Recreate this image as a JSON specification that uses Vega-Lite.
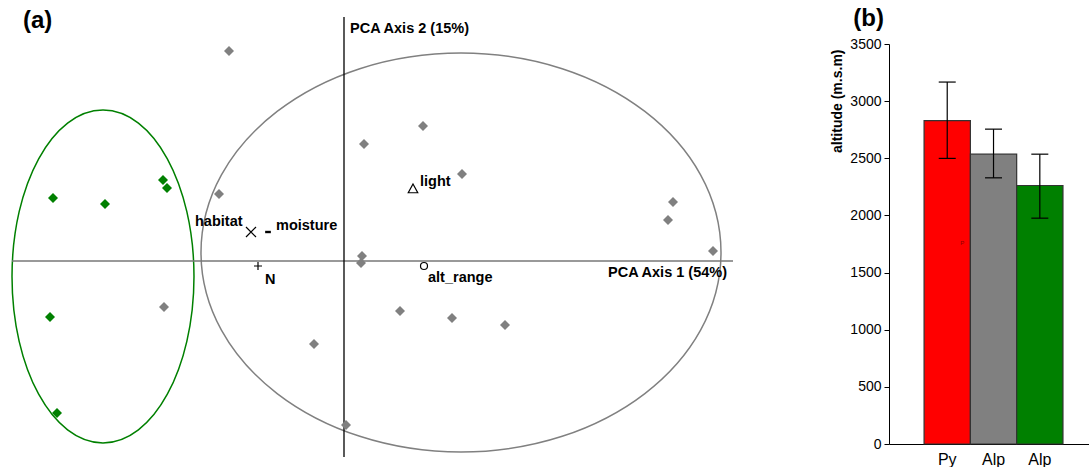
{
  "$schema": "https://vega.github.io/schema/vega-lite/v6.json",
  "padding": {"left": 0, "top": 7, "right": 0, "bottom": 0},
  "background": "white",
  "config": {
    "view": {"stroke": null},
    "font": "Liberation Sans"
  },
  "spacing": 149,
  "bounds": "flush",
  "datasets": {
    "sites": [
      {"group": "Alp-1", "x": -1.15, "y": 2.10},
      {"group": "Alp-1", "x": -1.25, "y": 0.67},
      {"group": "Alp-1", "x": 0.79, "y": 1.35},
      {"group": "Alp-1", "x": 0.20, "y": 1.17},
      {"group": "Alp-1", "x": 1.18, "y": 0.87},
      {"group": "Alp-1", "x": 3.29, "y": 0.59},
      {"group": "Alp-1", "x": 3.24, "y": 0.41},
      {"group": "Alp-1", "x": 3.69, "y": 0.10},
      {"group": "Alp-1", "x": 0.18, "y": 0.05},
      {"group": "Alp-1", "x": 0.17, "y": -0.02},
      {"group": "Alp-1", "x": 0.56, "y": -0.50},
      {"group": "Alp-1", "x": 1.08, "y": -0.57},
      {"group": "Alp-1", "x": 1.61, "y": -0.64},
      {"group": "Alp-1", "x": -1.80, "y": -0.46},
      {"group": "Alp-1", "x": -0.30, "y": -0.83},
      {"group": "Alp-1", "x": 0.02, "y": -1.64},
      {"group": "Alp-2", "x": -2.91, "y": 0.63},
      {"group": "Alp-2", "x": -2.39, "y": 0.57},
      {"group": "Alp-2", "x": -1.81, "y": 0.81},
      {"group": "Alp-2", "x": -1.77, "y": 0.73},
      {"group": "Alp-2", "x": -2.94, "y": -0.56},
      {"group": "Alp-2", "x": -2.87, "y": -1.52}
    ],
    "vars": [
      {"var": "habitat", "x": -0.93, "y": 0.29},
      {"var": "moisture", "x": -0.76, "y": 0.29},
      {"var": "N", "x": -0.86, "y": -0.05},
      {"var": "light", "x": 0.69, "y": 0.725},
      {"var": "alt_range", "x": 0.80, "y": -0.05}
    ],
    "labels": [
      {"text": "PCA Axis 2 (15%)", "x": 0.06, "y": 2.28},
      {"text": "PCA Axis 1 (54%)", "x": 2.64, "y": -0.16},
      {"text": "habitat", "x": -1.49, "y": 0.35},
      {"text": "moisture", "x": -0.68, "y": 0.31},
      {"text": "light", "x": 0.76, "y": 0.75},
      {"text": "N", "x": -0.79, "y": -0.23},
      {"text": "alt_range", "x": 0.84, "y": -0.21}
    ],
    "bars": [
      {"grp": "Py", "alt": 2830, "lo": 2499, "hi": 3167},
      {"grp": "Alp-1", "alt": 2536, "lo": 2329, "hi": 2755},
      {"grp": "Alp-2", "alt": 2262, "lo": 1976, "hi": 2536}
    ]
  },
  "hconcat": [
    {
      "width": 740,
      "height": 400,
      "encoding": {
        "x": {"field": "x", "type": "quantitative", "scale": {"domain": [-3.44, 3.96], "nice": false, "zero": false}, "axis": null},
        "y": {"field": "y", "type": "quantitative", "scale": {"domain": [-1.83, 2.17], "nice": false, "zero": false}, "axis": null}
      },
      "layer": [
        {
          "data": {"values": [{"x": -2.41, "y": -0.155}]},
          "mark": {"type": "point", "shape": "M-0.5465,0C-0.5465,-0.5523,-0.3018,-1,0,-1C0.3018,-1,0.5465,-0.5523,0.5465,0C0.5465,0.5523,0.3018,1,0,1C-0.3018,1,-0.5465,0.5523,-0.5465,0Z", "size": 110889, "filled": false, "stroke": "#008000", "strokeWidth": 1.5, "opacity": 1}
        },
        {
          "data": {"values": [{"x": 1.17, "y": 0.085}]},
          "mark": {"type": "point", "shape": "M-1.3033,0C-1.3033,-0.5523,-0.7198,-1,0,-1C0.7198,-1,1.3033,-0.5523,1.3033,0C1.3033,0.5523,0.7198,1,0,1C-0.7198,1,-1.3033,0.5523,-1.3033,0Z", "size": 159201, "filled": false, "stroke": "#808080", "strokeWidth": 1.5, "opacity": 1}
        },
        {
          "data": {"values": [{"x": -3.32, "x2": 3.89, "y": 0}]},
          "mark": {"type": "rule", "color": "#777777", "strokeWidth": 1.5},
          "encoding": {"x2": {"field": "x2"}}
        },
        {
          "data": {"values": [{"x": 0, "y": 2.44, "y2": -1.96}]},
          "mark": {"type": "rule", "color": "black", "strokeWidth": 1.3},
          "encoding": {"y2": {"field": "y2"}}
        },
        {
          "data": {"name": "sites"},
          "mark": {"type": "point", "shape": "diamond", "size": 100, "filled": true, "opacity": 1},
          "encoding": {
            "color": {"field": "group", "type": "nominal", "scale": {"domain": ["Py", "Alp-1", "Alp-2"], "range": ["#ff0000", "#808080", "#008000"]}, "legend": null}
          }
        },
        {
          "data": {"name": "vars"},
          "mark": {"type": "point", "size": 100, "filled": false, "stroke": "black", "strokeWidth": 1.2, "opacity": 1},
          "encoding": {
            "shape": {"field": "var", "type": "nominal", "legend": null,
              "scale": {"domain": ["habitat", "moisture", "N", "light", "alt_range"],
                "range": ["M-1,-1L1,1M-1,1L1,-1", "M-0.45,-0.12L0.45,-0.12L0.45,0.12L-0.45,0.12Z", "M-0.8,0L0.8,0M0,-0.8L0,0.8", "M0,-0.9L0.95,0.85L-0.95,0.85Z", "M-0.7,0C-0.7,-0.3866,-0.3866,-0.7,0,-0.7C0.3866,-0.7,0.7,-0.3866,0.7,0C0.7,0.3866,0.3866,0.7,0,0.7C-0.3866,0.7,-0.7,0.3866,-0.7,0Z"]}}
          }
        },
        {
          "data": {"name": "labels"},
          "mark": {"type": "text", "align": "left", "baseline": "alphabetic", "fontSize": 14.5, "fontWeight": "bold", "color": "black"},
          "encoding": {"text": {"field": "text"}}
        },
        {
          "data": {"values": [{"text": "(a)", "x": -3.21, "y": 2.33}]},
          "mark": {"type": "text", "align": "left", "baseline": "alphabetic", "fontSize": 24, "fontWeight": "bold", "color": "black"},
          "encoding": {"text": {"field": "text"}}
        }
      ]
    },
    {
      "width": 200,
      "height": 400,
      "data": {"name": "bars"},
      "encoding": {
        "x": {"field": "grp", "type": "nominal", "sort": ["Py", "Alp-1", "Alp-2"],
          "scale": {"paddingInner": 0, "paddingOuter": 0.66, "align": 0.574},
          "axis": {"title": null, "labelExpr": "datum.value == 'Py' ? 'Py' : 'Alp'", "labelAngle": 0, "ticks": false, "labelFontSize": 16, "labelPadding": 7, "labelColor": "black", "domainColor": "black", "domainWidth": 1}}
      },
      "layer": [
        {
          "mark": {"type": "bar", "stroke": "#333333", "strokeWidth": 1.2, "opacity": 1},
          "encoding": {
            "y": {"field": "alt", "type": "quantitative", "scale": {"domain": [0, 3500], "nice": false},
              "axis": {"values": [0, 500, 1000, 1500, 2000, 2500, 3000, 3500], "format": "d", "grid": false, "title": "altitude (m.s.m)", "titleFontSize": 14, "titleFontWeight": "bold", "titleColor": "black", "titleAnchor": "end", "titleY": 5, "titlePadding": 5, "labelFontSize": 14, "labelColor": "black", "labelPadding": 3, "tickSize": 5, "tickColor": "black", "domainColor": "black", "domainWidth": 1}},
            "color": {"field": "grp", "type": "nominal", "scale": {"domain": ["Py", "Alp-1", "Alp-2"], "range": ["#ff0000", "#808080", "#008000"]}, "legend": null}
          }
        },
        {
          "mark": {"type": "rule", "color": "black", "strokeWidth": 1.2},
          "encoding": {"y": {"field": "lo", "type": "quantitative"}, "y2": {"field": "hi"}}
        },
        {
          "mark": {"type": "tick", "color": "black", "size": 17, "thickness": 1.2, "orient": "horizontal", "opacity": 1},
          "encoding": {"y": {"field": "hi", "type": "quantitative"}}
        },
        {
          "mark": {"type": "tick", "color": "black", "size": 17, "thickness": 1.2, "orient": "horizontal", "opacity": 1},
          "encoding": {"y": {"field": "lo", "type": "quantitative"}}
        },
        {
          "data": {"values": [{"grp": "Py", "alt": 1760, "label": "P"}]},
          "mark": {"type": "text", "fontSize": 6, "color": "#8b0000", "dx": 15},
          "encoding": {"y": {"field": "alt", "type": "quantitative"}, "text": {"field": "label"}}
        },
        {
          "data": {"values": [{"grp": "Py", "alt": 3657, "label": "(b)"}]},
          "mark": {"type": "text", "fontSize": 24, "fontWeight": "bold", "color": "black", "align": "left", "baseline": "alphabetic", "dx": -94},
          "encoding": {"y": {"field": "alt", "type": "quantitative"}, "text": {"field": "label"}}
        }
      ]
    }
  ]
}
